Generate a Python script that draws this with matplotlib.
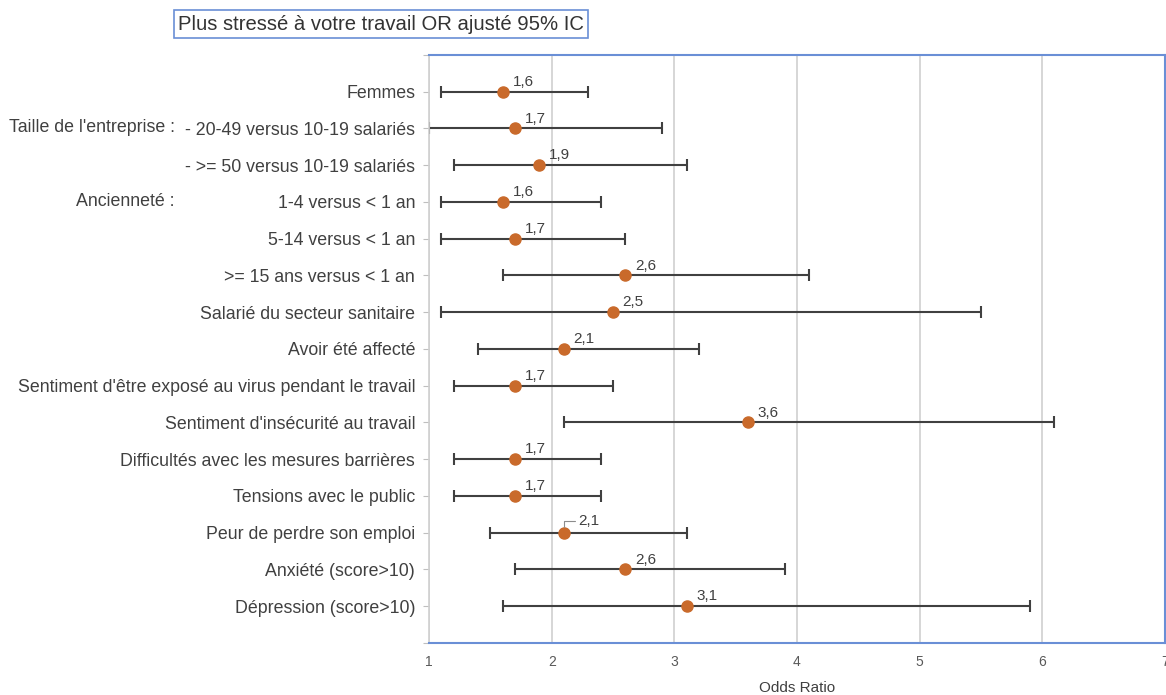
import matplotlib.pyplot as plt
import numpy as np

plt.rcParams['font.family'] = ['Liberation Sans', 'DejaVu Sans']

# Data
labels = ["Femmes", "- 20-49 versus 10-19 salariés", "- >= 50 versus 10-19 salariés",
          "1-4 versus < 1 an", "5-14 versus < 1 an", ">= 15 ans versus < 1 an",
          "Salarié du secteur sanitaire", "Avoir été affecté",
          "Sentiment d'être exposé au virus pendant le travail",
          "Sentiment d'insécurité au travail", "Difficultés avec les mesures barrières",
          "Tensions avec le public", "Peur de perdre son emploi",
          "Anxiété (score>10)", "Dépression (score>10)"]
odds = [1.6, 1.7, 1.9, 1.6, 1.7, 2.6, 2.5, 2.1, 1.7, 3.6, 1.7, 1.7, 2.1, 2.6, 3.1]
ci_low = [1.1, 1.0, 1.2, 1.1, 1.1, 1.6, 1.1, 1.4, 1.2, 2.1, 1.2, 1.2, 1.5, 1.7, 1.6]
ci_high = [2.3, 2.9, 3.1, 2.4, 2.6, 4.1, 5.5, 3.2, 2.5, 6.1, 2.4, 2.4, 3.1, 3.9, 5.9]
groups = {1: "Taille de l'entreprise :", 3: "Ancienneté :"}

txt = '#404040'
fig = plt.figure(figsize=(11.66, 6.95), dpi=100)
ax = fig.add_axes([0.368, 0.075, 0.631, 0.846])

y = np.arange(len(labels))
odds_a = np.array(odds)
err = [odds_a - np.array(ci_low), np.array(ci_high) - odds_a]
ax.errorbar(odds, y, xerr=err, fmt='none', ecolor='#404040', elinewidth=1.5,
            capsize=4, capthick=1.5, zorder=2)
ax.plot(odds, y, 'o', color='#C96A2B', markersize=8, zorder=3)

for i, v in enumerate(odds):
    lab = f"{v:.1f}".replace('.', ',')
    if i == 12:
        ax.annotate(lab, (v, i), xytext=(10, 3), textcoords='offset points',
                    fontsize=11, color=txt, ha='left', va='bottom',
                    arrowprops=dict(arrowstyle='-', color='#8c8c8c', lw=0.8,
                                    connectionstyle='angle,angleA=0,angleB=90,rad=0',
                                    shrinkA=0, shrinkB=4))
    else:
        ax.annotate(lab, (v, i), xytext=(7, 2), textcoords='offset points',
                    fontsize=11, color=txt, ha='left', va='bottom')

ax.set_xlim(1, 7)
ax.set_ylim(15, -1)
ax.set_xticks(range(1, 8))
ax.tick_params(axis='x', length=0, pad=9, labelsize=10, labelcolor='#595959')
ax.set_yticks(np.arange(-1, 16))
ax.set_yticklabels([''] + labels + [''])
ax.tick_params(axis='y', length=4, color='#bfbfbf', labelsize=12.8, labelcolor=txt, pad=6)
ax.grid(axis='x', color='#d0d0d0', lw=1.2)
ax.set_axisbelow(True)
for s in ['top', 'right', 'bottom']:
    ax.spines[s].set_color('#6a8fd6')
    ax.spines[s].set_linewidth(1.5)
ax.spines['left'].set_color('#d0d0d0')
ax.spines['left'].set_linewidth(1.2)
ax.set_xlabel('Odds Ratio', fontsize=11, color=txt, va='center')
ax.xaxis.set_label_coords(0.5, -0.0765)

for i, g in groups.items():
    fig.text(175 / 1166, 1 - (91 + i * 36.8) / 695, g, ha='right', va='center',
             fontsize=12.8, color=txt)

fig.text(178 / 1166, 1 - 24 / 695, 'Plus stressé à votre travail OR ajusté 95% IC',
         fontsize=14.6, color='#333333', ha='left', va='center',
         bbox=dict(boxstyle='square,pad=0.2', fc='white', ec='#6a8fd6', lw=1.2))

fig.savefig('out.png', dpi=100)
